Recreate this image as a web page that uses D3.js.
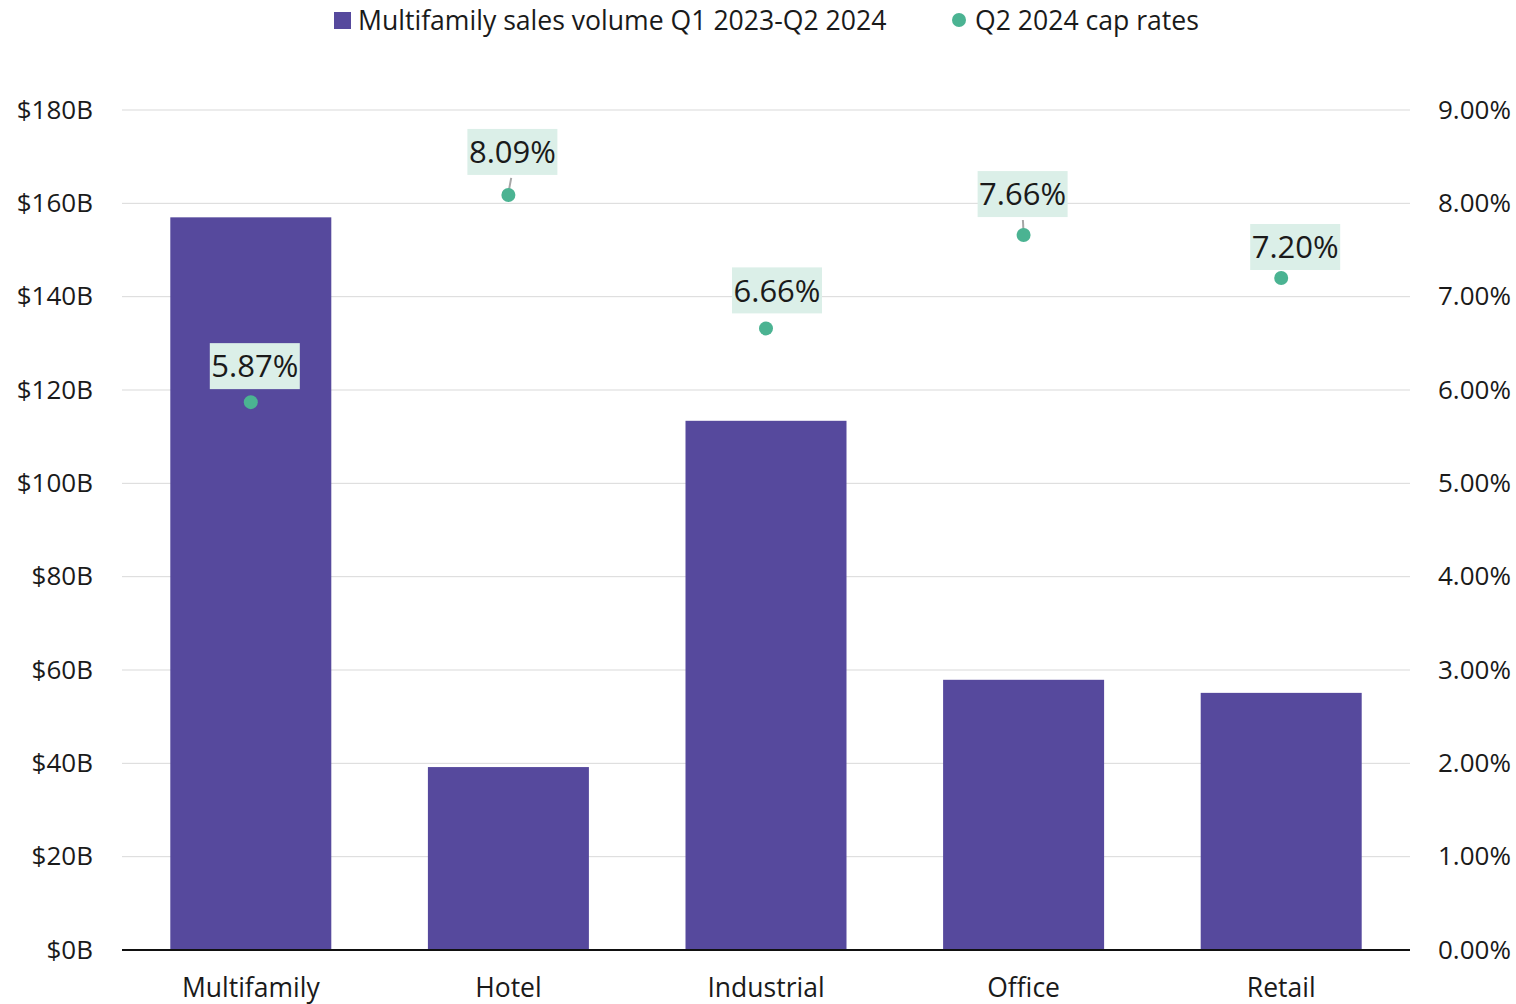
<!DOCTYPE html>
<html>
<head>
<meta charset="utf-8">
<script src="https://cdn.jsdelivr.net/npm/d3@7/dist/d3.min.js"></script>
<style>
  html, body { margin: 0; padding: 0; background: #fff; }
  svg { display: block; }
  svg text { font-family: "Open Sans", "Noto Sans", sans-serif; }
</style>
</head>
<body>
<svg id="chart" width="1516" height="1004"></svg>
<script>
// Sales volume by property type (billions of dollars) and cap rates (%)
const categories = ["Multifamily", "Hotel", "Industrial", "Office", "Retail"];
const salesVolume = [157, 39.2, 113.4, 57.9, 55.1];
const capRates = [5.87, 8.09, 6.66, 7.66, 7.20];
const leftTicks = [0, 20, 40, 60, 80, 100, 120, 140, 160, 180];
const rightTicks = [0, 1, 2, 3, 4, 5, 6, 7, 8, 9];
const seriesNames = ["Multifamily sales volume Q1 2023-Q2 2024", "Q2 2024 cap rates"];

// Label placement relative to each point: [dx of box centre, gap above point, leader line]
const labelNudge = [[4, 13, false], [4, 20, true], [11, 15, false], [-1, 18, true], [14, 8, false]];

const barColor = "#56499d";
const dotColor = "#4bb392";
const labelBg = "#dbefe8";
const textColor = "#1a1a1a";
const fontFamily = '"Open Sans", "Noto Sans", sans-serif';

const svg = d3.select("#chart");
const plot = { left: 122, right: 1410, top: 110, bottom: 950 };

const x = d3.scaleBand().domain(categories).range([plot.left, plot.right]).paddingInner(0.375).paddingOuter(0.1875);
const yL = d3.scaleLinear().domain([0, 180]).range([plot.bottom, plot.top]);
const yR = d3.scaleLinear().domain([0, 9]).range([plot.bottom, plot.top]);

// Gridlines
svg.append("g")
  .selectAll("line")
  .data(leftTicks.filter(d => d > 0))
  .join("line")
  .attr("x1", plot.left).attr("x2", plot.right)
  .attr("y1", d => yL(d)).attr("y2", d => yL(d))
  .attr("stroke", "#d9d9d9").attr("stroke-width", 1);

// Left axis
const leftAxis = svg.append("g")
  .attr("transform", `translate(${plot.left},0)`)
  .call(d3.axisLeft(yL).tickValues(leftTicks).tickSize(0).tickPadding(29).tickFormat(d => `$${d}B`))
  .attr("font-family", fontFamily);
leftAxis.select(".domain").remove();
leftAxis.selectAll("text").attr("font-size", 26).attr("fill", textColor).attr("dy", "0.32em");

// Right axis
const rightAxis = svg.append("g")
  .attr("transform", `translate(${plot.right},0)`)
  .call(d3.axisRight(yR).tickValues(rightTicks).tickSize(0).tickPadding(28).tickFormat(d => d.toFixed(2) + "%"))
  .attr("font-family", fontFamily);
rightAxis.select(".domain").remove();
rightAxis.selectAll("text").attr("font-size", 26).attr("fill", textColor).attr("dy", "0.32em");

// Bars
svg.append("g")
  .selectAll("rect")
  .data(categories)
  .join("rect")
  .attr("x", d => x(d))
  .attr("width", x.bandwidth())
  .attr("y", (d, i) => yL(salesVolume[i]))
  .attr("height", (d, i) => yL(0) - yL(salesVolume[i]))
  .attr("fill", barColor);

// Baseline
svg.append("line")
  .attr("x1", plot.left).attr("x2", plot.right)
  .attr("y1", plot.bottom).attr("y2", plot.bottom)
  .attr("stroke", "#111").attr("stroke-width", 2);

// Category axis
const bottomAxis = svg.append("g")
  .attr("transform", `translate(0,${plot.bottom})`)
  .call(d3.axisBottom(x).tickSize(0).tickPadding(28))
  .attr("font-family", fontFamily);
bottomAxis.select(".domain").remove();
bottomAxis.selectAll("text").attr("font-size", 26.5).attr("fill", textColor).attr("dy", "0.71em");

// Cap rate points and labels
const pts = svg.append("g");
categories.forEach((c, i) => {
  const cx = x(c) + x.bandwidth() / 2;
  const cy = yR(capRates[i]);
  const [dx, gap, leader] = labelNudge[i];
  const boxW = 90, boxH = 46;
  const bx = cx + dx - boxW / 2;
  const by = cy - gap - boxH;
  if (leader) {
    pts.append("line")
      .attr("x1", cx + dx * 0.7).attr("y1", by + boxH + 3)
      .attr("x2", cx).attr("y2", cy - 2)
      .attr("stroke", "#a6a6a6").attr("stroke-width", 2);
  }
  pts.append("rect")
    .attr("x", bx).attr("y", by).attr("width", boxW).attr("height", boxH)
    .attr("fill", labelBg);
  pts.append("text")
    .attr("x", cx + dx).attr("y", by + boxH / 2)
    .attr("dy", "0.36em")
    .attr("text-anchor", "middle")
    .attr("font-size", 31)
    .attr("fill", textColor)
    .text(capRates[i].toFixed(2) + "%");
  pts.append("circle")
    .attr("cx", cx).attr("cy", cy).attr("r", 7)
    .attr("fill", dotColor);
});

// Legend
const legend = svg.append("g");
legend.append("rect").attr("x", 334).attr("y", 12).attr("width", 17).attr("height", 17).attr("fill", barColor);
legend.append("text").attr("x", 358).attr("y", 20).attr("dy", "0.36em")
  .attr("font-size", 26.6).attr("fill", textColor).text(seriesNames[0]);
legend.append("circle").attr("cx", 959).attr("cy", 20).attr("r", 7).attr("fill", dotColor);
legend.append("text").attr("x", 975).attr("y", 20).attr("dy", "0.36em")
  .attr("font-size", 26.6).attr("fill", textColor).text(seriesNames[1]);
</script>
</body>
</html>
